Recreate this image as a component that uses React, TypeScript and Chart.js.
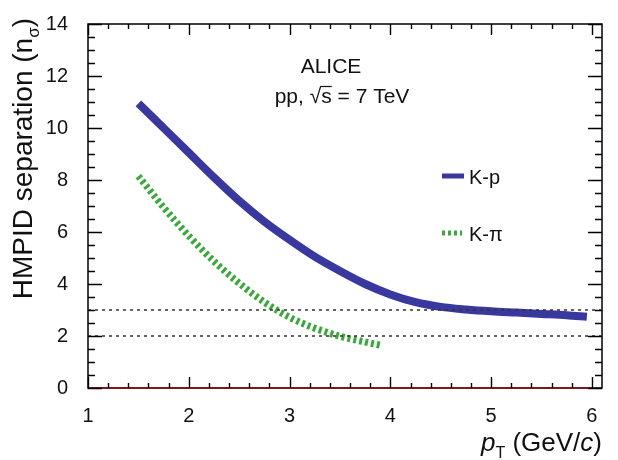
import React, { useEffect, useRef } from "react";
import { Chart, registerables } from "chart.js";

Chart.register(...registerables);

// ---- data ----
const kpX = [1.5, 1.75, 2.0, 2.25, 2.5, 2.75, 3.0, 3.25, 3.5, 3.75, 4.0, 4.25, 4.5, 4.75, 5.0, 5.25, 5.5, 5.75, 5.95];
const kpY = [10.95, 10.0, 9.05, 8.1, 7.2, 6.4, 5.7, 5.05, 4.5, 4.0, 3.6, 3.3, 3.12, 3.02, 2.95, 2.9, 2.85, 2.8, 2.74];
const kpiX = [1.5, 1.75, 2.0, 2.25, 2.5, 2.75, 3.0, 3.25, 3.5, 3.75, 3.92];
const kpiY = [8.15, 6.95, 5.85, 4.87, 4.03, 3.3, 2.72, 2.3, 1.99, 1.77, 1.63];
const refLevels = [3, 2];
const xRange = [1, 6.1];
const yRange = [0, 14];
const xTickLabels = [1, 2, 3, 4, 5, 6];
const yTickLabels = [0, 2, 4, 6, 8, 10, 12, 14];
const seriesNames = ["K-p", "K-\u03C0"];
const annotation = ["ALICE", "pp, \u221A", "s", " = 7 TeV"];

const BLUE = "#38389e";
const GREEN = "#3aa83a";
const FONT = "'Liberation Sans', Arial, Helvetica, sans-serif";

const toPts = (xs: number[], ys: number[]) => xs.map((x, i) => ({ x, y: ys[i] }));

const decorPlugin = {
  id: "decor",
  beforeDatasetsDraw(chart: any) {
    const { ctx, chartArea: a } = chart;
    ctx.save();
    ctx.strokeStyle = "#000";
    ctx.lineWidth = 1.5;
    ctx.strokeRect(a.left, a.top, a.right - a.left, a.bottom - a.top);
    ctx.restore();
  },
  afterDatasetsDraw(chart: any) {
    const { ctx, chartArea: a, scales } = chart;
    const xs = scales.x;
    const ys = scales.y;
    ctx.save();
    ctx.strokeStyle = "#000";
    ctx.lineWidth = 1.4;
    ctx.beginPath();
    // x ticks (bottom & top)
    for (let i = 0; i <= 50; i++) {
      const v = 1 + i * 0.2;
      if (v > xRange[1] + 1e-6) break;
      const major = Math.abs(v - Math.round(v)) < 1e-6;
      const len = major ? 11 : 5;
      const px = Math.round(xs.getPixelForValue(v)) + 0.5;
      ctx.moveTo(px, a.bottom);
      ctx.lineTo(px, a.bottom - len);
      ctx.moveTo(px, a.top);
      ctx.lineTo(px, a.top + len);
    }
    // y ticks (left & right)
    for (let i = 0; i <= 28; i++) {
      const v = i * 0.5;
      const major = i % 4 === 0;
      const len = major ? 14 : 7;
      const py = Math.round(ys.getPixelForValue(v)) + 0.5;
      ctx.moveTo(a.left, py);
      ctx.lineTo(a.left + len, py);
      ctx.moveTo(a.right, py);
      ctx.lineTo(a.right - len, py);
    }
    ctx.stroke();

    // annotation text
    ctx.fillStyle = "#111";
    ctx.font = `21px ${FONT}`;
    ctx.textAlign = "center";
    ctx.textBaseline = "alphabetic";
    ctx.fillText(annotation[0], 331, 73);
    ctx.textAlign = "left";
    const line2 = annotation[1] + annotation[2] + annotation[3];
    const w2 = ctx.measureText(line2).width;
    let ax = 342 - w2 / 2;
    ctx.fillText(annotation[1], ax, 103);
    ax += ctx.measureText(annotation[1]).width;
    const sw = ctx.measureText(annotation[2]).width;
    ctx.fillText(annotation[2], ax, 103);
    ctx.strokeStyle = "#111";
    ctx.lineWidth = 1.2;
    ctx.beginPath();
    ctx.moveTo(ax - 1, 86.5);
    ctx.lineTo(ax + sw, 86.5);
    ctx.stroke();
    ax += sw;
    ctx.fillText(annotation[3], ax, 103);

    // legend
    ctx.lineCap = "butt";
    ctx.strokeStyle = BLUE;
    ctx.lineWidth = 5;
    ctx.beginPath();
    ctx.moveTo(442, 176);
    ctx.lineTo(464, 176);
    ctx.stroke();
    ctx.strokeStyle = GREEN;
    ctx.setLineDash([3, 3]);
    ctx.beginPath();
    ctx.moveTo(442, 233);
    ctx.lineTo(462, 233);
    ctx.stroke();
    ctx.setLineDash([]);
    ctx.fillStyle = "#111";
    ctx.textAlign = "left";
    ctx.textBaseline = "middle";
    ctx.font = `20px ${FONT}`;
    ctx.fillText(seriesNames[0], 469, 178);
    ctx.fillText(seriesNames[1], 469, 235);

    // x title: p_T (GeV/c), right aligned at 602
    const big = `26px ${FONT}`;
    const bigI = `italic 26px ${FONT}`;
    const sub = `16px ${FONT}`;
    const parts: [string, string, number][] = [
      ["p", bigI, 0],
      ["T", sub, 7],
      [" (GeV/", big, 0],
      ["c", bigI, 0],
      [")", big, 0],
    ];
    let total = 0;
    for (const [t, f] of parts) {
      ctx.font = f;
      total += ctx.measureText(t).width;
    }
    let cx = 602 - total;
    ctx.textAlign = "left";
    ctx.textBaseline = "alphabetic";
    for (const [t, f, dy] of parts) {
      ctx.font = f;
      ctx.fillText(t, cx, 451 + dy);
      cx += ctx.measureText(t).width;
    }

    // y title rotated, right aligned at top (y=18)
    const yparts: [string, string, number][] = [
      ["HMPID separation (n", `28px ${FONT}`, 0],
      ["\u03C3", `17px ${FONT}`, 7],
      [")", `28px ${FONT}`, 0],
    ];
    let ytotal = 0;
    for (const [t, f] of yparts) {
      ctx.font = f;
      ytotal += ctx.measureText(t).width;
    }
    ctx.translate(32, 18 + ytotal);
    ctx.rotate(-Math.PI / 2);
    let yx = 0;
    for (const [t, f, dy] of yparts) {
      ctx.font = f;
      ctx.fillText(t, yx, dy);
      yx += ctx.measureText(t).width;
    }
    ctx.restore();
  },
};

export default function App() {
  const ref = useRef<HTMLCanvasElement>(null);
  useEffect(() => {
    if (!ref.current) return;
    const chart = new Chart(ref.current, {
      type: "line",
      data: {
        datasets: [
          ...refLevels.map((lv) => ({
            label: `ref${lv}`,
            data: [
              { x: xRange[0], y: lv },
              { x: xRange[1], y: lv },
            ],
            borderColor: "#333",
            borderWidth: 1.3,
            borderDash: [3, 4],
            pointRadius: 0,
            clip: false as any,
          })),
          {
            label: "zero",
            data: [
              { x: xRange[0], y: 0 },
              { x: 6, y: 0 },
            ],
            borderColor: "#7a1c1c",
            borderWidth: 2,
            pointRadius: 0,
            clip: false as any,
          },
          {
            label: seriesNames[1],
            data: toPts(kpiX, kpiY),
            borderColor: GREEN,
            borderWidth: 7,
            borderDash: [3, 3],
            borderCapStyle: "butt",
            pointRadius: 0,
            cubicInterpolationMode: "monotone",
            clip: false as any,
          },
          {
            label: seriesNames[0],
            data: toPts(kpX, kpY),
            borderColor: BLUE,
            borderWidth: 8,
            borderCapStyle: "butt",
            pointRadius: 0,
            cubicInterpolationMode: "monotone",
            clip: false as any,
          },
        ],
      },
      options: {
        animation: false,
        responsive: false,
        devicePixelRatio: 1,
        layout: { padding: { left: 0, right: 16, top: 17, bottom: 0 } },
        plugins: { legend: { display: false }, tooltip: { enabled: false } },
        scales: {
          x: {
            type: "linear",
            min: xRange[0],
            max: xRange[1],
            grid: { display: false },
            border: { display: false },
            afterBuildTicks: (s: any) => {
              s.ticks = xTickLabels.map((v) => ({ value: v }));
            },
            afterFit: (s: any) => {
              s.height = 72;
            },
            ticks: {
              padding: 8,
              color: "#111",
              font: { family: FONT, size: 20 },
              maxRotation: 0,
              autoSkip: false,
            },
          },
          y: {
            type: "linear",
            min: yRange[0],
            max: yRange[1],
            grid: { display: false },
            border: { display: false },
            afterBuildTicks: (s: any) => {
              s.ticks = yTickLabels.map((v) => ({ value: v }));
            },
            afterFit: (s: any) => {
              s.width = 88;
            },
            ticks: {
              padding: 12,
              color: "#111",
              font: { family: FONT, size: 20 },
              autoSkip: false,
            },
          },
        },
      },
      plugins: [decorPlugin],
    } as any);
    return () => chart.destroy();
  }, []);
  return (
    <div style={{ position: "absolute", left: 0, top: 0, width: 618, height: 460, background: "#fff" }}>
      <canvas ref={ref} width={618} height={460} />
    </div>
  );
}
